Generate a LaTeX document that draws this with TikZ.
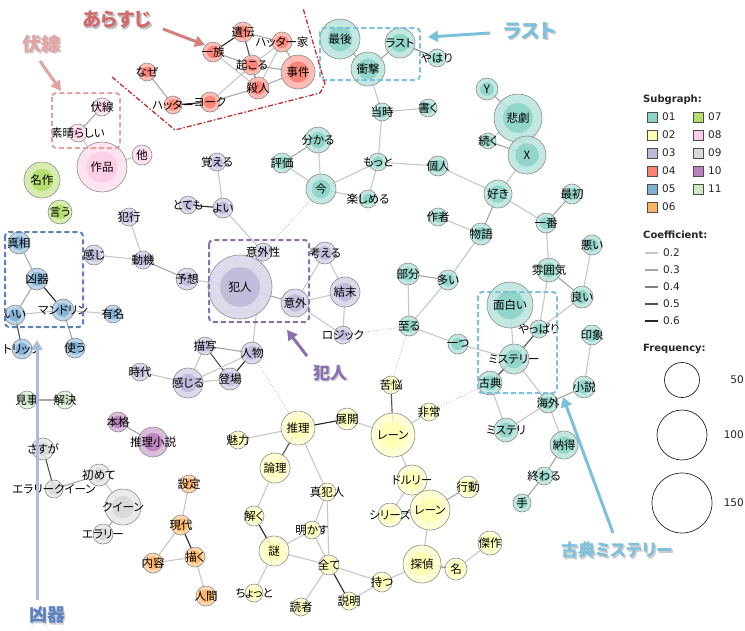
\documentclass[tikz,border=0pt]{standalone}
\usepackage{fontspec}
\setmainfont{Noto Sans CJK JP}[RawFeature=+palt]
\newfontfamily\lgd{DejaVu Sans}
\usetikzlibrary{arrows.meta}
\pgfdeclarelayer{back}
\pgfdeclarelayer{bg}
\pgfsetlayers{back,bg,main}
\definecolor{c01}{HTML}{8DD3C7}
\definecolor{c02}{HTML}{FFFFB3}
\definecolor{c03}{HTML}{BEBADA}
\definecolor{c04}{HTML}{FB8072}
\definecolor{c05}{HTML}{80B1D3}
\definecolor{c06}{HTML}{FDB462}
\definecolor{c07}{HTML}{B3DE69}
\definecolor{c08}{HTML}{FCCDE5}
\definecolor{c09}{HTML}{D9D9D9}
\definecolor{c10}{HTML}{BC80BD}
\definecolor{c11}{HTML}{CCEBC5}
\definecolor{annred}{HTML}{D06A6A}
\definecolor{annpink}{HTML}{E3A3A3}
\definecolor{annlb}{HTML}{7CC0DC}
\definecolor{annblue}{HTML}{5A80C0}
\definecolor{annarrowblue}{HTML}{A9BDDD}
\definecolor{annpurple}{HTML}{8A70B0}
\definecolor{dashred}{HTML}{C03030}
\tikzset{
  wnode/.style={circle, inner sep=0pt, draw=black!45, line width=0.6pt, fill opacity=0.88},
  wlbl/.style={inner sep=0pt, font=\fontsize{11.5}{11.5}\selectfont, text=black},
  e2/.style={draw=black!22, line width=1.1pt},
  e3/.style={draw=black!35, line width=1.1pt},
  e4/.style={draw=black!50, line width=1.1pt},
  e5/.style={draw=black!68, line width=1.1pt},
  e6/.style={draw=black!85, line width=1.1pt},
  edot/.style={draw=black!30, line width=0.8pt, dotted},
  hlbox/.style={rounded corners=4pt, line width=2pt, dash pattern=on 5pt off 3pt},
  annot/.style={inner sep=0pt, font=\bfseries\fontsize{#1}{#1}\selectfont},
  annarrow/.style={line width=3pt, -{Triangle[length=10pt,width=11pt]}},
  lgtext/.style={inner sep=0pt, anchor=west, font=\lgd\fontsize{10.5}{11}\selectfont, text=black!85},
  lghead/.style={inner sep=0pt, anchor=west, font=\lgd\bfseries\fontsize{10}{11}\selectfont, text=black!85},
  lgsq/.style={draw=black!70, line width=0.5pt, minimum size=10.5pt, inner sep=0pt}
}
\newcommand{\wn}[6]{%
  \node[wnode, minimum size=#4*2pt, fill=#5!60!white] (#1) at (#2,#3) {};
  \fill[#5, fill opacity=0.9] (#1.center) circle[radius=#4*0.62pt];
  \node[wlbl] (#1-t) at (#1.center) {#6};
}
\newcommand{\ed}[3]{\draw[#1] (#2.center) -- (#3.center);}
\begin{document}
\begin{tikzpicture}[x=1pt,y=-1pt]
\useasboundingbox (0,0) rectangle (745,630);
\begin{pgfonlayer}{back}
\fill[white] (0,0) rectangle (745,630);
\end{pgfonlayer}

% ---------- group 04 ----------
\wn{ichizoku}{213}{52}{10}{c04}{一族}
\wn{iden}{243}{32}{10}{c04}{遺伝}
\wn{hatterke}{282}{42}{10}{c04}{ハッター家}
\wn{okoru}{252}{65}{10}{c04}{起こる}
\wn{jiken}{298}{72}{17}{c04}{事件}
\wn{satsujin}{258}{88}{11}{c04}{殺人}
\wn{naze}{147}{72}{9}{c04}{なぜ}
\wn{hatter}{173}{105}{9}{c04}{ハッター}
\wn{york}{210}{102}{10}{c04}{ヨーク}
% ---------- group 08 ----------
\wn{fukusen}{102}{107}{9}{c08}{伏線}
\wn{subarashii}{78}{133}{9}{c08}{素晴らしい}
\wn{sakuhin}{102}{167}{25}{c08}{作品}
\wn{hoka}{142}{155}{10}{c08}{他}
% ---------- group 07 ----------
\wn{meisaku}{42}{180}{18}{c07}{名作}
\wn{iu}{60}{212}{12}{c07}{言う}
% ---------- group 01 ----------
\wn{saigo}{340}{39}{20}{c01}{最後}
\wn{last}{400}{43}{15}{c01}{ラスト}
\wn{shougeki}{368}{69}{17}{c01}{衝撃}
\wn{yahari}{437}{58}{9}{c01}{やはり}
\wn{touji}{382}{112}{9}{c01}{当時}
\wn{kaku}{428}{108}{9}{c01}{書く}
\wn{Y}{487}{89}{11}{c01}{Y}
\wn{higeki}{518}{118}{24}{c01}{悲劇}
\wn{tsuzuku}{488}{141}{8}{c01}{続く}
\wn{X}{527}{155}{19}{c01}{X}
\wn{wakaru}{318}{140}{13}{c01}{分かる}
\wn{hyouka}{282}{163}{10}{c01}{評価}
\wn{ima}{321}{189}{15}{c01}{今}
\wn{motto}{378}{162}{9}{c01}{もっと}
\wn{tanoshimeru}{368}{199}{9}{c01}{楽しめる}
\wn{kojin}{438}{166}{10}{c01}{個人}
\wn{suki}{498}{194}{14}{c01}{好き}
\wn{saisho}{572}{194}{10}{c01}{最初}
\wn{sakusha}{438}{217}{9}{c01}{作者}
\wn{monogatari}{481}{234}{11}{c01}{物語}
\wn{ichiban}{546}{223}{10}{c01}{一番}
\wn{bubun}{408}{274}{11}{c01}{部分}
\wn{ooi}{448}{280}{10}{c01}{多い}
\wn{funiki}{549}{270}{12}{c01}{雰囲気}
\wn{warui}{592}{245}{10}{c01}{悪い}
\wn{yoi}{582}{297}{11}{c01}{良い}
\wn{omoshiroi}{510}{305}{23}{c01}{面白い}
\wn{yappari}{539}{329}{9}{c01}{やっぱり}
\wn{inshou}{592}{335}{10}{c01}{印象}
\wn{itaru}{409}{326}{10}{c01}{至る}
\wn{hitotsu}{458}{344}{10}{c01}{一つ}
\wn{mystery}{514}{359}{15}{c01}{ミステリー}
\wn{koten}{490}{383}{12}{c01}{古典}
\wn{shousetsu}{584}{387}{11}{c01}{小説}
\wn{kaigai}{548}{403}{10}{c01}{海外}
\wn{mysteri}{506}{430}{12}{c01}{ミステリ}
\wn{nattoku}{564}{445}{14}{c01}{納得}
\wn{owaru}{544}{476}{9}{c01}{終わる}
\wn{te}{522}{503}{9}{c01}{手}
% ---------- group 03 ----------
\wn{oboeru}{217}{162}{9}{c03}{覚える}
\wn{totemo}{188}{205}{9}{c03}{とても}
\wn{yoi3}{223}{208}{10}{c03}{よい}
\wn{hankou}{129}{217}{9}{c03}{犯行}
\wn{kanji}{94}{255}{10}{c03}{感じ}
\wn{douki}{143}{260}{9}{c03}{動機}
\wn{yosou}{187}{279}{11}{c03}{予想}
\wn{hannin}{240}{287}{32}{c03}{犯人}
\wn{igaisei}{263}{252}{9}{c03}{意外性}
\wn{igai}{295}{303}{14}{c03}{意外}
\wn{kangaeru}{325}{253}{11}{c03}{考える}
\wn{ketsumatsu}{345}{292}{15}{c03}{結末}
\wn{logic}{343}{335}{9}{c03}{ロジック}
\wn{byousha}{205}{346}{9}{c03}{描写}
\wn{jinbutsu}{252}{353}{11}{c03}{人物}
\wn{jidai}{140}{372}{9}{c03}{時代}
\wn{kanjiru}{188}{383}{15}{c03}{感じる}
\wn{toujou}{230}{379}{11}{c03}{登場}
% ---------- group 05 ----------
\wn{shinsou}{19}{243}{11}{c05}{真相}
\wn{kyouki}{37}{279}{11}{c05}{凶器}
\wn{ii}{15}{315}{10}{c05}{いい}
\wn{mandolin}{63}{310}{11}{c05}{マンドリン}
\wn{yuumei}{113}{314}{9}{c05}{有名}
\wn{trick}{22}{349}{10}{c05}{トリック}
\wn{tsukau}{75}{348}{10}{c05}{使う}
% ---------- group 11 ----------
\wn{migoto}{27}{400}{9}{c11}{見事}
\wn{kaiketsu}{65}{400}{9}{c11}{解決}
% ---------- group 10 ----------
\wn{honkaku}{118}{422}{10}{c10}{本格}
\wn{suirishousetsu}{153}{442}{15}{c10}{推理小説}
% ---------- group 09 ----------
\wn{sasuga}{43}{449}{11}{c09}{さすが}
\wn{eq}{54}{489}{9}{c09}{エラリークイーン}
\wn{hajimete}{99}{475}{11}{c09}{初めて}
\wn{queen}{123}{507}{18}{c09}{クイーン}
\wn{ellery}{103}{534}{10}{c09}{エラリー}
% ---------- group 06 ----------
\wn{settei}{189}{484}{9}{c06}{設定}
\wn{gendai}{181}{525}{10}{c06}{現代}
\wn{naiyou}{153}{563}{10}{c06}{内容}
\wn{egaku}{195}{557}{10}{c06}{描く}
\wn{ningen}{206}{596}{10}{c06}{人間}
% ---------- group 02 ----------
\wn{miryoku}{238}{440}{9}{c02}{魅力}
\wn{suiri}{298}{428}{17}{c02}{推理}
\wn{ronri}{275}{468}{15}{c02}{論理}
\wn{toku}{254}{516}{10}{c02}{解く}
\wn{nazo}{274}{551}{15}{c02}{謎}
\wn{chotto}{254}{593}{9}{c02}{ちょっと}
\wn{shinhannin}{327}{492}{9}{c02}{真犯人}
\wn{akasu}{312}{530}{9}{c02}{明かす}
\wn{subete}{329}{565}{10}{c02}{全て}
\wn{dokusha}{301}{607}{9}{c02}{読者}
\wn{setsumei}{349}{601}{9}{c02}{説明}
\wn{motsu}{382}{582}{10}{c02}{持つ}
\wn{tenkai}{347}{419}{11}{c02}{展開}
\wn{kunou}{391}{385}{9}{c02}{苦悩}
\wn{hijou}{429}{412}{9}{c02}{非常}
\wn{laneA}{393}{435}{22}{c02}{レーン}
\wn{drury}{412}{480}{15}{c02}{ドルリー}
\wn{series}{390}{515}{12}{c02}{シリーズ}
\wn{laneB}{430}{510}{20}{c02}{レーン}
\wn{koudou}{468}{487}{11}{c02}{行動}
\wn{tantei}{422}{564}{19}{c02}{探偵}
\wn{mei}{456}{569}{11}{c02}{名}
\wn{kessaku}{490}{543}{12}{c02}{傑作}

% ---------- edges ----------
\begin{pgfonlayer}{bg}
% 04
\ed{e6}{ichizoku}{iden}
\ed{e3}{ichizoku}{okoru}
\ed{e2}{ichizoku}{satsujin}
\ed{e5}{iden}{okoru}
\ed{e3}{iden}{hatterke}
\ed{e3}{hatterke}{jiken}
\ed{e2}{hatterke}{satsujin}
\ed{e2}{hatterke}{okoru}
\ed{e3}{okoru}{jiken}
\ed{e4}{okoru}{satsujin}
\ed{e3}{satsujin}{jiken}
\ed{e3}{york}{satsujin}
\ed{e2}{york}{okoru}
\ed{e3}{naze}{hatter}
\ed{e6}{hatter}{york}
% 08
\ed{e3}{fukusen}{subarashii}
\ed{e2}{subarashii}{sakuhin}
\ed{e2}{sakuhin}{hoka}
% 01
\ed{e3}{saigo}{shougeki}
\ed{e3}{shougeki}{last}
\ed{e4}{last}{yahari}
\ed{e2}{shougeki}{touji}
\ed{e2}{touji}{kaku}
\ed{e2}{touji}{motto}
\ed{e2}{motto}{kojin}
\ed{e2}{motto}{ima}
\ed{e2}{motto}{tanoshimeru}
\ed{e2}{ima}{tanoshimeru}
\ed{e2}{ima}{wakaru}
\ed{e2}{ima}{hyouka}
\ed{e3}{hyouka}{wakaru}
\ed{e2}{kojin}{suki}
\ed{e2}{suki}{X}
\ed{e2}{X}{higeki}
\ed{e3}{higeki}{Y}
\ed{e3}{tsuzuku}{X}
\ed{e2}{tsuzuku}{higeki}
\ed{e3}{suki}{monogatari}
\ed{e2}{suki}{ichiban}
\ed{e3}{ichiban}{saisho}
\ed{e2}{ichiban}{funiki}
\ed{e2}{monogatari}{sakusha}
\ed{e2}{monogatari}{ooi}
\ed{e3}{ooi}{bubun}
\ed{e2}{bubun}{itaru}
\ed{e2}{ooi}{itaru}
\ed{e2}{itaru}{hitotsu}
\ed{e2}{hitotsu}{mystery}
\ed{e2}{mystery}{omoshiroi}
\ed{e5}{mystery}{yappari}
\ed{e2}{yappari}{funiki}
\ed{e2}{yappari}{yoi}
\ed{e3}{yoi}{funiki}
\ed{e2}{yoi}{warui}
\ed{e5}{mystery}{koten}
\ed{e2}{mystery}{kaigai}
\ed{e2}{koten}{mysteri}
\ed{e2}{mysteri}{kaigai}
\ed{e3}{kaigai}{shousetsu}
\ed{e2}{shousetsu}{inshou}
\ed{e2}{kaigai}{nattoku}
\ed{e3}{nattoku}{owaru}
\ed{e3}{owaru}{te}
% 03
\ed{e2}{oboeru}{yoi3}
\ed{e6}{totemo}{yoi3}
\ed{e2}{yoi3}{igaisei}
\ed{e2}{igaisei}{hannin}
\ed{e2}{igaisei}{jinbutsu}
\ed{e3}{hannin}{igai}
\ed{e2}{hannin}{yosou}
\ed{e3}{yosou}{douki}
\ed{e2}{douki}{kanji}
\ed{e2}{douki}{hankou}
\ed{e2}{igai}{kangaeru}
\ed{e2}{igai}{ketsumatsu}
\ed{e2}{igai}{logic}
\ed{e2}{kangaeru}{ketsumatsu}
\ed{e2}{ketsumatsu}{logic}
\ed{e3}{byousha}{jinbutsu}
\ed{e2}{byousha}{kanjiru}
\ed{e5}{byousha}{toujou}
\ed{e6}{jinbutsu}{toujou}
\ed{e2}{jinbutsu}{kanjiru}
\ed{e2}{kanjiru}{jidai}
\ed{e2}{kanjiru}{toujou}
% 05
\ed{e3}{shinsou}{kyouki}
\ed{e3}{kyouki}{ii}
\ed{e6}{kyouki}{mandolin}
\ed{e2}{ii}{mandolin}
\ed{e2}{mandolin}{yuumei}
\ed{e5}{ii}{trick}
\ed{e3}{mandolin}{tsukau}
% 11, 10, 09, 06
\ed{e3}{migoto}{kaiketsu}
\ed{e3}{honkaku}{suirishousetsu}
\ed{e5}{sasuga}{eq}
\ed{e3}{eq}{hajimete}
\ed{e2}{hajimete}{queen}
\ed{e3}{queen}{ellery}
\ed{e2}{settei}{gendai}
\ed{e6}{gendai}{egaku}
\ed{e2}{gendai}{naiyou}
\ed{e2}{naiyou}{egaku}
\ed{e2}{egaku}{ningen}
% 02
\ed{e2}{miryoku}{suiri}
\ed{e6}{suiri}{tenkai}
\ed{e5}{suiri}{ronri}
\ed{e2}{suiri}{shinhannin}
\ed{e2}{ronri}{toku}
\ed{e6}{toku}{nazo}
\ed{e2}{nazo}{chotto}
\ed{e2}{nazo}{akasu}
\ed{e2}{nazo}{subete}
\ed{e2}{shinhannin}{akasu}
\ed{e2}{shinhannin}{subete}
\ed{e2}{akasu}{subete}
\ed{e2}{subete}{dokusha}
\ed{e6}{subete}{setsumei}
\ed{e2}{subete}{motsu}
\ed{e2}{setsumei}{motsu}
\ed{e2}{motsu}{tantei}
\ed{e2}{tenkai}{laneA}
\ed{e5}{laneA}{kunou}
\ed{e2}{laneA}{hijou}
\ed{e2}{laneA}{drury}
\ed{e2}{drury}{series}
\ed{e3}{drury}{laneB}
\ed{e3}{series}{laneB}
\ed{e3}{laneB}{koudou}
\ed{e2}{laneB}{tantei}
\ed{e4}{tantei}{mei}
\ed{e2}{mei}{kessaku}
% between subgraphs
\ed{edot}{ima}{igaisei}
\ed{edot}{logic}{itaru}
\ed{edot}{itaru}{kunou}
\ed{edot}{koten}{hijou}
\ed{edot}{jinbutsu}{suiri}
\end{pgfonlayer}

% ---------- highlight boxes ----------
\draw[hlbox, annpink] (52,93) rectangle (120,148);
\draw[hlbox, annlb] (320,28) rectangle (420,80);
\draw[hlbox, annblue] (5,232) rectangle (83,327);
\draw[hlbox, annpurple] (209,240) rectangle (309,322);
\draw[hlbox, annlb] (478,292) rectangle (557,393);
\draw[dashred, line width=1.3pt, dash pattern=on 5pt off 2pt on 1.5pt off 2pt]
  (112,77) -- (175,130) -- (320,93) -- (325,84) -- (303,8);

% ---------- annotations ----------
\node[annot=19, text=black!25] (arasuji-s) at (118.5,21.5) {あらすじ};
\node[annot=19, text=annred] (arasuji) at (117,20) {あらすじ};
\node[annot=19, text=black!20] (fukusenA-s) at (43.5,45.5) {伏線};
\node[annot=19, text=annpink] (fukusenA) at (42,44) {伏線};
\node[annot=20, text=black!20] (lastA-s) at (531.5,32.5) {ラスト};
\node[annot=20, text=annlb] (lastA) at (530,31) {ラスト};
\node[annot=17, text=black!20] (kotenA-s) at (618.5,551.5) {古典ミステリー};
\node[annot=17, text=annlb] (kotenA) at (617,550) {古典ミステリー};
\node[annot=18, text=black!20] (kyoukiA-s) at (48.5,616.5) {凶器};
\node[annot=18, text=annblue] (kyoukiA) at (47,615) {凶器};
\node[annot=17, text=black!20] (hanninA-s) at (331.5,374.5) {犯人};
\node[annot=17, text=annpurple] (hanninA) at (330,373) {犯人};

\coordinate (a1s) at (163,29);  \coordinate (a1e) at (205,45);
\coordinate (a2s) at (40,61);   \coordinate (a2e) at (61,91);
\coordinate (a3s) at (490,33);  \coordinate (a3e) at (428,37);
\coordinate (a4s) at (307,356); \coordinate (a4e) at (287,330);
\coordinate (a5s) at (613,533); \coordinate (a5e) at (563,397);
\coordinate (a6s) at (37,600);  \coordinate (a6e) at (37,340);
\draw[annarrow, annred!85] (a1s) -- (a1e);
\draw[annarrow, annpink] (a2s) -- (a2e);
\draw[annarrow, annlb] (a3s) -- (a3e);
\draw[annarrow, annpurple] (a4s) -- (a4e);
\draw[annarrow, annlb] (a5s) -- (a5e);
\draw[annarrow, annarrowblue] (a6s) -- (a6e);

% ---------- legend ----------
\node[lghead] (lg-sub) at (643,100) {Subgraph:};
\node[lgsq, fill=c01] (sq01) at (652,117) {}; \node[lgtext] (t01) at (662,117) {01};
\node[lgsq, fill=c02] (sq02) at (652,135) {}; \node[lgtext] (t02) at (662,135) {02};
\node[lgsq, fill=c03] (sq03) at (652,153) {}; \node[lgtext] (t03) at (662,153) {03};
\node[lgsq, fill=c04] (sq04) at (652,171) {}; \node[lgtext] (t04) at (662,171) {04};
\node[lgsq, fill=c05] (sq05) at (652,189) {}; \node[lgtext] (t05) at (662,189) {05};
\node[lgsq, fill=c06] (sq06) at (652,207) {}; \node[lgtext] (t06) at (662,207) {06};
\node[lgsq, fill=c07] (sq07) at (698,117) {}; \node[lgtext] (t07) at (708,117) {07};
\node[lgsq, fill=c08] (sq08) at (698,135) {}; \node[lgtext] (t08) at (708,135) {08};
\node[lgsq, fill=c09] (sq09) at (698,153) {}; \node[lgtext] (t09) at (708,153) {09};
\node[lgsq, fill=c10] (sq10) at (698,171) {}; \node[lgtext] (t10) at (708,171) {10};
\node[lgsq, fill=c11] (sq11) at (698,189) {}; \node[lgtext] (t11) at (708,189) {11};

\node[lghead] (lg-coef) at (643,235) {Coefficient:};
\coordinate (c2a) at (645,253); \coordinate (c2b) at (658,253);
\coordinate (c3a) at (645,270); \coordinate (c3b) at (658,270);
\coordinate (c4a) at (645,287); \coordinate (c4b) at (658,287);
\coordinate (c5a) at (645,304); \coordinate (c5b) at (658,304);
\coordinate (c6a) at (645,321); \coordinate (c6b) at (658,321);
\draw[e2, line width=1.5pt] (c2a) -- (c2b); \node[lgtext] (tc2) at (663,253) {0.2};
\draw[e3, line width=1.5pt] (c3a) -- (c3b); \node[lgtext] (tc3) at (663,270) {0.3};
\draw[e4, line width=1.5pt] (c4a) -- (c4b); \node[lgtext] (tc4) at (663,287) {0.4};
\draw[e5, line width=1.5pt] (c5a) -- (c5b); \node[lgtext] (tc5) at (663,304) {0.5};
\draw[e6, line width=1.5pt] (c6a) -- (c6b); \node[lgtext] (tc6) at (663,321) {0.6};

\node[lghead] (lg-freq) at (643,349) {Frequency:};
\node[circle, draw=black!85, line width=0.7pt, minimum size=35pt, inner sep=0pt] (f50) at (682,380) {};
\node[circle, draw=black!85, line width=0.7pt, minimum size=50pt, inner sep=0pt] (f100) at (682,435) {};
\node[circle, draw=black!85, line width=0.7pt, minimum size=60pt, inner sep=0pt] (f150) at (682,503) {};
\node[lgtext, anchor=east] (tf50) at (744,380) {50};
\node[lgtext, anchor=east] (tf100) at (744,435) {100};
\node[lgtext, anchor=east] (tf150) at (744,503) {150};
\end{tikzpicture}
\end{document}
